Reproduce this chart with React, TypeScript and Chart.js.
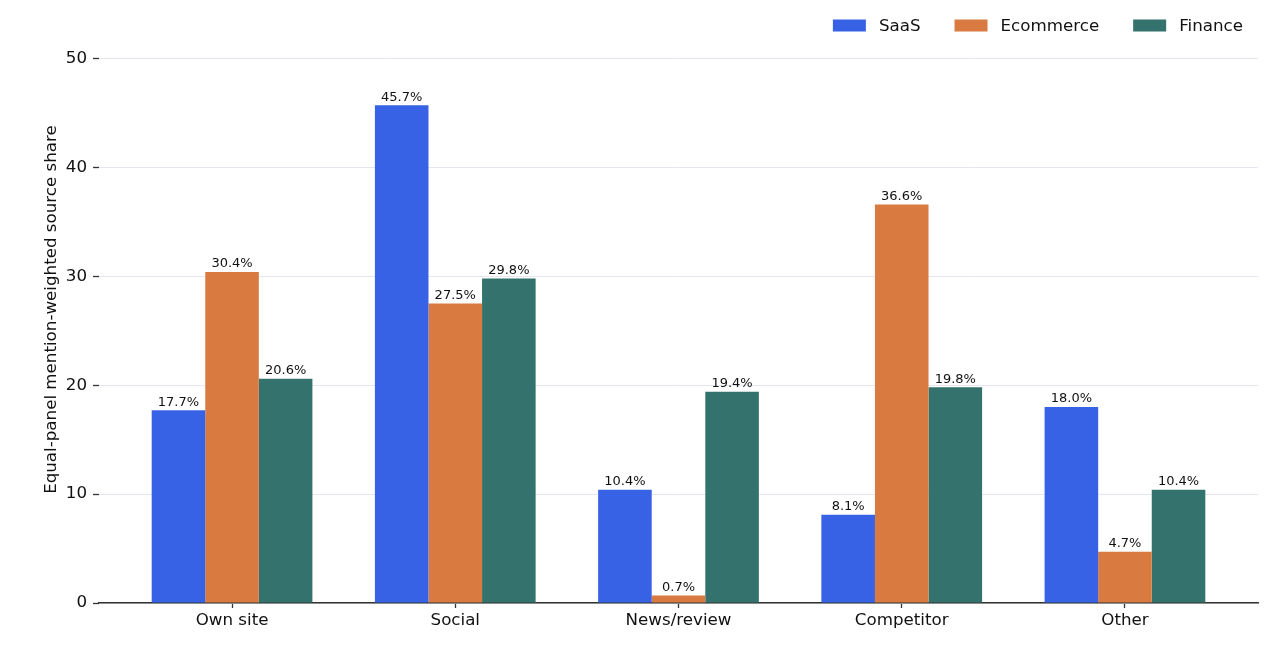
import { useEffect, useRef } from "react";
import { Chart, registerables } from "chart.js";
import type { Plugin } from "chart.js";

Chart.register(...registerables);

const categories = ["Own site", "Social", "News/review", "Competitor", "Other"];
const seriesNames = ["SaaS", "Ecommerce", "Finance"];
const saas = [17.7, 45.7, 10.4, 8.1, 18.0];
const ecommerce = [30.4, 27.5, 0.7, 36.6, 4.7];
const finance = [20.6, 29.8, 19.4, 19.8, 10.4];
const yTicks = [0, 10, 20, 30, 40, 50];

const colors = ["#3862e5", "#d97b41", "#34736d"];
const FONT = "'DejaVu Sans', sans-serif";
const INK = "#111";
const SIZE = 16.7;

// value labels above each bar
const barLabels: Plugin<"bar"> = {
  id: "barLabels",
  afterDatasetsDraw(chart) {
    const { ctx } = chart;
    ctx.save();
    ctx.font = `13px ${FONT}`;
    ctx.fillStyle = INK;
    ctx.textAlign = "center";
    ctx.textBaseline = "alphabetic";
    chart.data.datasets.forEach((ds, di) => {
      chart.getDatasetMeta(di).data.forEach((bar, i) => {
        const v = (ds.data[i] as { x: number; y: number }).y;
        ctx.fillText(`${v.toFixed(1)}%`, bar.x, bar.y - 4.5);
      });
    });
    ctx.restore();
  },
};

// legend in the top right corner, matplotlib style
const topLegend: Plugin<"bar"> = {
  id: "topLegend",
  afterDraw(chart) {
    const { ctx, chartArea } = chart;
    const boxW = 33;
    const boxH = 12;
    const gap = 13;
    const spacing = 34;
    ctx.save();
    ctx.font = `${SIZE}px ${FONT}`;
    const widths = chart.data.datasets.map(
      (ds) => boxW + gap + ctx.measureText(String(ds.label)).width
    );
    const total = widths.reduce((a, b) => a + b, 0) + spacing * (widths.length - 1);
    let x = chartArea.right - 15 - total;
    const y = 25.5;
    chart.data.datasets.forEach((ds, i) => {
      ctx.fillStyle = String(ds.backgroundColor);
      ctx.fillRect(x, y - boxH / 2, boxW, boxH);
      ctx.fillStyle = INK;
      ctx.textAlign = "left";
      ctx.textBaseline = "middle";
      ctx.fillText(String(ds.label), x + boxW + gap, y + 1);
      x += widths[i] + spacing;
    });
    ctx.restore();
  },
};

function GroupedBars(): JSX.Element {
  const canvasRef = useRef<HTMLCanvasElement | null>(null);

  useEffect(() => {
    const canvas = canvasRef.current;
    if (!canvas) return;
    const series = [saas, ecommerce, finance];

    const chart = new Chart(canvas, {
      type: "bar",
      data: {
        datasets: series.map((values, si) => ({
          label: seriesNames[si],
          data: values.map((v, i) => ({ x: i, y: v })),
          backgroundColor: colors[si],
          borderWidth: 0,
          categoryPercentage: 0.72,
          barPercentage: 1,
        })),
      },
      options: {
        animation: false,
        responsive: true,
        maintainAspectRatio: false,
        layout: { padding: { top: 13, right: 26, bottom: 0, left: 0 } },
        plugins: {
          legend: { display: false },
          tooltip: { enabled: false },
        },
        scales: {
          x: {
            type: "linear",
            min: -0.596,
            max: 4.596,
            offset: false,
            z: 1,
            afterBuildTicks: (s) => {
              s.ticks = categories.map((_, i) => ({ value: i }));
            },
            afterFit: (s) => {
              s.height = 43;
            },
            ticks: {
              callback: (v) => categories[Number(v)],
              color: INK,
              font: { family: FONT, size: SIZE },
              padding: 3,
              maxRotation: 0,
              autoSkip: false,
            },
            grid: {
              offset: false,
              drawOnChartArea: false,
              drawTicks: true,
              tickLength: 5,
              tickColor: "#333",
              tickWidth: 1.3,
            },
            border: { color: "#333", width: 1.5 },
          },
          y: {
            min: 0,
            max: 53.9,
            afterBuildTicks: (s) => {
              s.ticks = yTicks.map((v) => ({ value: v }));
            },
            afterFit: (s) => {
              s.width = 99;
            },
            ticks: {
              color: INK,
              font: { family: FONT, size: SIZE },
              padding: 6,
            },
            grid: {
              color: "#e4e7ef",
              lineWidth: 1,
              drawTicks: true,
              tickLength: 6,
              tickColor: "#333",
              tickWidth: 1.3,
            },
            border: { display: false },
            title: {
              display: true,
              text: "Equal-panel mention-weighted source share",
              color: INK,
              font: { family: FONT, size: SIZE },
              padding: { top: 42, bottom: 0 },
            },
          },
        },
      },
      plugins: [barLabels, topLegend],
    });

    return () => {
      chart.destroy();
    };
  }, []);

  return (
    <div style={{ position: "fixed", left: 0, top: 0, width: 1284, height: 646, background: "#fff" }}>
      <canvas ref={canvasRef}></canvas>
    </div>
  );
}

export default function App(): JSX.Element {
  return <GroupedBars />;
}
